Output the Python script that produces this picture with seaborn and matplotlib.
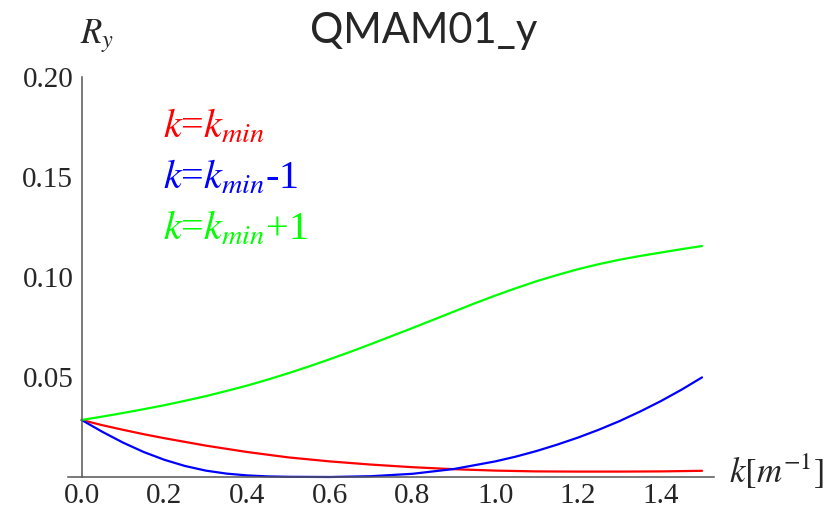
import matplotlib
matplotlib.use("Agg")
import matplotlib.pyplot as plt
from matplotlib.ticker import MultipleLocator, FixedLocator, FormatStrFormatter
import pandas as pd
import seaborn as sns

# Response R_y of QMAM01 versus k for three k settings
k_kmin = [0.0, 0.05, 0.1, 0.15, 0.2, 0.3, 0.4, 0.5, 0.6, 0.7, 0.8, 0.9, 1.0, 1.1,
          1.2, 1.3, 1.4, 1.5]
r_kmin = [0.0285, 0.0259, 0.0236, 0.0214, 0.0194, 0.0157, 0.0125, 0.0098, 0.0078,
          0.0062, 0.0049, 0.0039, 0.0032, 0.0028, 0.0027, 0.0027, 0.0028, 0.0031]

k_kminus = [0.0, 0.05, 0.1, 0.15, 0.2, 0.25, 0.3, 0.35, 0.4, 0.45, 0.5, 0.6, 0.7,
            0.8, 0.9, 1.0, 1.05, 1.1, 1.15, 1.2, 1.25, 1.3, 1.35, 1.4, 1.45, 1.5]
r_kminus = [0.0285, 0.0226, 0.0172, 0.0125, 0.0086, 0.0055, 0.0032, 0.0017, 0.0008,
            0.0003, 0.0001, 0.0000, 0.0004, 0.0016, 0.0040, 0.0078, 0.0102, 0.0130,
            0.0162, 0.0197, 0.0236, 0.0279, 0.0327, 0.0379, 0.0436, 0.0498]

k_kplus = [0.0, 0.05, 0.1, 0.15, 0.2, 0.25, 0.3, 0.35, 0.4, 0.45, 0.5, 0.55, 0.6,
           0.65, 0.7, 0.75, 0.8, 0.85, 0.9, 0.95, 1.0, 1.05, 1.1, 1.15, 1.2, 1.25,
           1.3, 1.35, 1.4, 1.45, 1.5]
r_kplus = [0.0285, 0.0302, 0.0320, 0.0339, 0.0359, 0.0381, 0.0404, 0.0430, 0.0457,
           0.0487, 0.0519, 0.0553, 0.0589, 0.0626, 0.0665, 0.0705, 0.0745, 0.0786,
           0.0827, 0.0868, 0.0907, 0.0944, 0.0979, 0.1010, 0.1039, 0.1064, 0.1086,
           0.1105, 0.1122, 0.1139, 0.1155]

series_keys = ["kmin", "kmin-1", "kmin+1"]
series_labels = [r"$k$=$k_{min}$", r"$k$=$k_{min}$-1", r"$k$=$k_{min}$+1"]
series_colors = ["#ff0000", "#0000ff", "#00ff00"]

df = pd.concat([
    pd.DataFrame({"k": k_kmin, "R": r_kmin, "series": series_keys[0]}),
    pd.DataFrame({"k": k_kminus, "R": r_kminus, "series": series_keys[1]}),
    pd.DataFrame({"k": k_kplus, "R": r_kplus, "series": series_keys[2]}),
], ignore_index=True)
palette = dict(zip(series_keys, series_colors))

sns.set_style("white")
serif = ["Liberation Serif", "STIXGeneral", "DejaVu Serif"]
plt.rcParams["mathtext.fontset"] = "stix"
plt.rcParams["font.family"] = serif

fig = plt.figure(figsize=(8.39, 5.13), dpi=100)
ax = fig.add_axes([68 / 839, 36 / 513, 646 / 839, 400 / 513])

sns.lineplot(data=df, x="k", y="R", hue="series", hue_order=series_keys,
             palette=palette, estimator=None, sort=True, linewidth=1.6,
             legend=False, ax=ax, clip_on=False)

ax.set_xlim(-0.033, 1.529)
ax.set_ylim(0, 0.2)
ax.set_xlabel("")
ax.set_ylabel("")

for side in ("top", "right"):
    ax.spines[side].set_visible(False)
ax.spines["left"].set_position(("data", 0))
for side in ("left", "bottom"):
    ax.spines[side].set_color("#555555")
    ax.spines[side].set_linewidth(1.1)

ax.xaxis.set_major_locator(MultipleLocator(0.2))
ax.xaxis.set_minor_locator(MultipleLocator(0.05))
ax.xaxis.set_major_formatter(FormatStrFormatter("%.1f"))
ax.yaxis.set_major_locator(FixedLocator([0.05, 0.10, 0.15, 0.20]))
ax.yaxis.set_minor_locator(MultipleLocator(0.01))
ax.yaxis.set_major_formatter(FormatStrFormatter("%.2f"))

ax.tick_params(which="both", direction="in", color="#555555", width=1.0)
ax.tick_params(which="major", length=8, labelsize=21, pad=6)
ax.tick_params(which="minor", length=4.5)
ax.tick_params(axis="x", which="major", pad=4)
for lbl in ax.get_xticklabels() + ax.get_yticklabels():
    lbl.set_fontfamily(serif)

# colour-coded series labels
for i, (lab, col) in enumerate(zip(series_labels, series_colors)):
    fig.text(163 / 839, 1 - (138 + 51 * i) / 513, lab, color=col, fontsize=29,
             family=serif, va="baseline", ha="left")

fig.text(424 / 839, 1 - 43 / 513, "QMAM01_y", fontsize=30, family="Lato",
         ha="center", va="baseline")
fig.text(80 / 839, 1 - 43 / 513, r"$R_y$", fontsize=25, va="baseline", ha="left")
fig.text(729 / 839, 1 - 483 / 513, r"$k[m^{-1}]$", fontsize=25, va="baseline",
         ha="left")

fig.savefig("out.png", dpi=100)
